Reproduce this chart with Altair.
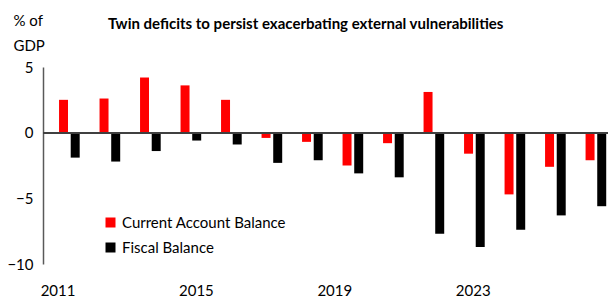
import altair as alt
import pandas as pd

years = [2011, 2012, 2013, 2014, 2015, 2016, 2017, 2018, 2019, 2020, 2021, 2022, 2023, 2024]
current_account = [2.5, 2.6, 4.2, 3.6, 2.5, -0.4, -0.7, -2.5, -0.8, 3.1, -1.6, -4.7, -2.6, -2.1]
fiscal_balance = [-1.9, -2.2, -1.4, -0.6, -0.9, -2.3, -2.1, -3.1, -3.4, -7.7, -8.7, -7.4, -6.3, -5.6]
series_names = ["Current Account Balance", "Fiscal Balance"]
series_colors = ["#FF0000", "#000000"]
tick_years = [2011, 2015, 2019, 2023]
y_ticks = [-10, -5, 0, 5]

FONT = "Lato"

rows = []
for i, yr in enumerate(years):
    rows.append({"year": str(yr), "series": series_names[0], "value": current_account[i]})
    rows.append({"year": str(yr), "series": series_names[1], "value": fiscal_balance[i]})
df = pd.DataFrame(rows)
ticks_df = pd.DataFrame({"yr": tick_years})

yscale = alt.Scale(domain=[-10, 5], nice=False, zero=False)

bars = alt.Chart(df).mark_bar().encode(
    x=alt.X("year:N", sort=[str(y) for y in years], axis=None,
            scale=alt.Scale(paddingInner=0.49, paddingOuter=0.22, align=0.9)),
    xOffset=alt.XOffset("series:N", sort=series_names,
                        scale=alt.Scale(paddingInner=0.23, paddingOuter=0)),
    y=alt.Y("value:Q", scale=yscale,
            axis=alt.Axis(values=y_ticks, grid=False, ticks=False, tickSize=0,
                          labelPadding=10, labelFontSize=15, labelFont=FONT,
                          labelColor="#000000", domainColor="#595959", domainWidth=1.5,
                          title=["% of", "GDP"], titleAngle=0, titleAlign="left",
                          titleBaseline="top", titleX=-30, titleY=-54,
                          titleFont=FONT, titleFontSize=15, titleFontWeight="normal",
                          titleLineHeight=25, titleColor="#000000")),
    color=alt.Color("series:N", sort=series_names,
                    scale=alt.Scale(domain=series_names, range=series_colors),
                    legend=alt.Legend(orient="none", legendX=60, legendY=148, title=None,
                                      symbolType="square", symbolSize=100,
                                      symbolStrokeWidth=0, labelFont=FONT,
                                      labelFontSize=15, labelColor="#000000",
                                      labelLimit=0, rowPadding=9, labelOffset=4)),
)

zero = alt.Chart(df).mark_rule(color="#404040", strokeWidth=1.5).encode(y=alt.datum(0))

labels = alt.Chart(ticks_df).mark_point(opacity=0).encode(
    x=alt.X("yr:Q", scale=alt.Scale(domain=[2010.58, 2026.91], nice=False, zero=False),
            axis=alt.Axis(values=tick_years, format="d", grid=False, ticks=False,
                          tickSize=0, domain=False, labelPadding=19,
                          labelFontSize=15, labelFont=FONT, labelColor="#000000",
                          title=None)),
    y=alt.value(0),
)

chart = alt.layer(bars, zero, labels).resolve_scale(x="independent").resolve_axis(
    x="independent"
).properties(
    width=565,
    height=197,
    autosize=alt.AutoSizeParams(type="none"),
    padding={"left": 35, "top": 59, "right": 0, "bottom": 35},
    title=alt.TitleParams(text="Twin deficits to persist exacerbating external vulnerabilities",
                          anchor="start", dx=101, dy=23, fontSize=15, fontWeight="bold",
                          font=FONT, color="#000000"),
).configure_view(stroke=None)

chart.save("out.html", embed_options={"renderer": "svg", "actions": False})
